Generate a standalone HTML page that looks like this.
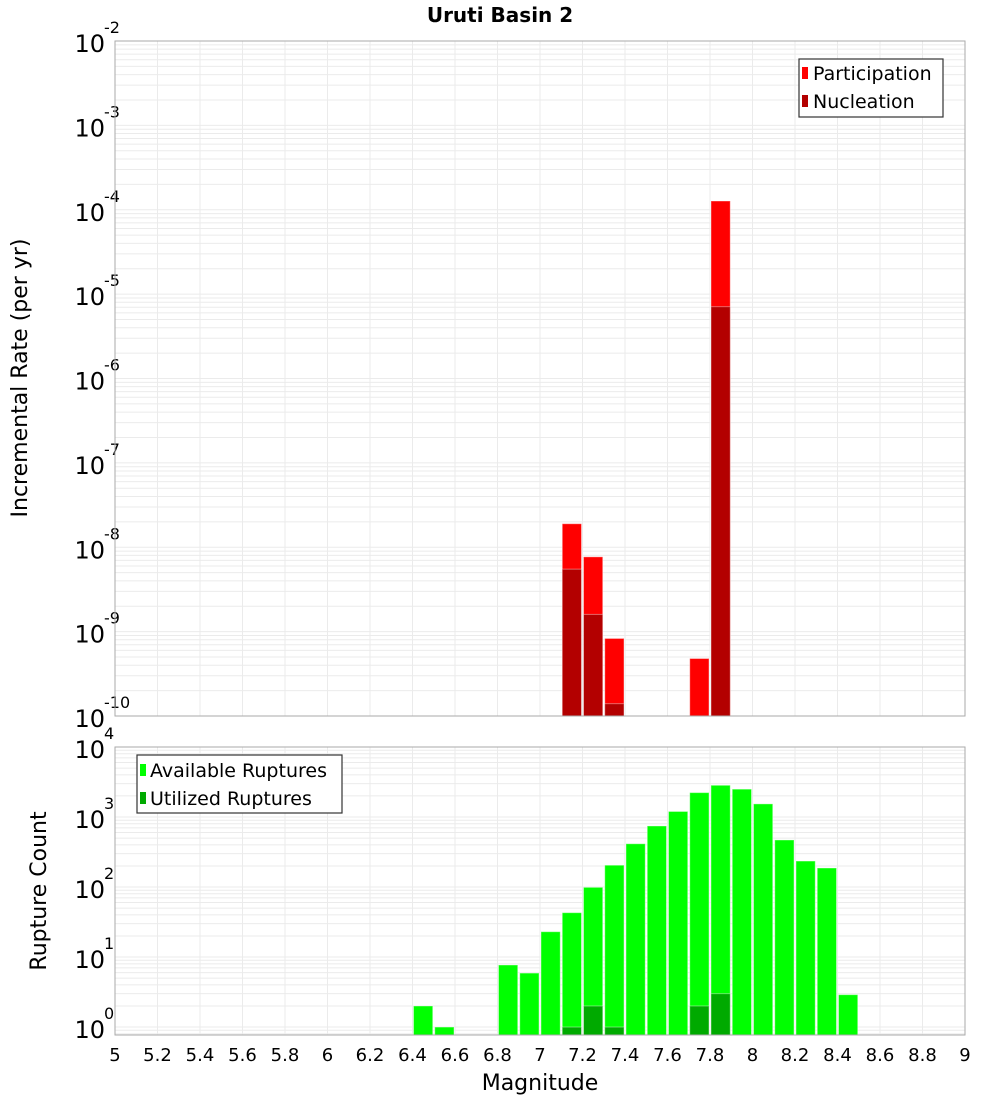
<!DOCTYPE html>
<html><head><meta charset="utf-8"><style>
body{margin:0;background:#fff;}
svg{font-family:"DejaVu Sans","Liberation Sans",sans-serif;}
</style></head><body>
<svg id="c" width="1000" height="1100" xmlns="http://www.w3.org/2000/svg">
<text x="500" y="22" text-anchor="middle" font-size="20" font-weight="bold">Uruti Basin 2</text>
<g id="gtop"></g>
<g id="gbot"></g>
<text transform="translate(27,378) rotate(-90)" text-anchor="middle" font-size="22">Incremental Rate (per yr)</text>
<text transform="translate(46,891) rotate(-90)" text-anchor="middle" font-size="22">Rupture Count</text>
<text x="540" y="1090" text-anchor="middle" font-size="22">Magnitude</text>
<g>
<rect x="799" y="59" width="144" height="58" fill="#fff" stroke="#333" stroke-width="1.2"/>
<rect x="802" y="67" width="6" height="12" fill="#ff0000"/>
<text x="813" y="80" font-size="19">Participation</text>
<rect x="802" y="95" width="6" height="12" fill="#b30000"/>
<text x="813" y="108" font-size="19">Nucleation</text>
</g>
<g>
<rect x="137" y="755" width="205" height="58" fill="#fff" stroke="#333" stroke-width="1.2"/>
<rect x="140" y="764" width="6" height="12" fill="#00ff00"/>
<text x="150" y="777" font-size="19">Available Ruptures</text>
<rect x="140" y="792" width="6" height="12" fill="#00aa00"/>
<text x="150" y="805" font-size="19">Utilized Ruptures</text>
</g>
</svg>
<script>
const rateMags=[7.15,7.25,7.35,7.75,7.85];
const participation=[1.9e-8,7.7e-9,8.3e-10,4.8e-10,1.27e-4];
const nucleationMags=[7.15,7.25,7.35,7.85];
const nucleation=[5.5e-9,1.6e-9,1.4e-10,7.1e-6];
const countMags=[6.45,6.55,6.85,6.95,7.05,7.15,7.25,7.35,7.45,7.55,7.65,7.75,7.85,7.95,8.05,8.15,8.25,8.35,8.45];
const available=[2,1,7.7,5.9,23,43,99,205,415,745,1200,2230,2840,2500,1540,470,235,187,2.9];
const utilizedMags=[7.15,7.25,7.35,7.75,7.85];
const utilized=[1,2,1,2,3];
const xTicks=[5,5.2,5.4,5.6,5.8,6,6.2,6.4,6.6,6.8,7,7.2,7.4,7.6,7.8,8,8.2,8.4,8.6,8.8,9];
const rateExps=[-10,-9,-8,-7,-6,-5,-4,-3,-2];
const countExps=[0,1,2,3,4];

const NS="http://www.w3.org/2000/svg";
const X0=115,X1=965;
const xs=m=>X0+(m-5)/4*(X1-X0);
function mk(p,tag,a){const e=document.createElementNS(NS,tag);for(const k in a)e.setAttribute(k,a[k]);p.appendChild(e);return e;}
function panel(g,pTop,pBottom,lmin,lmax,exps,name){
  const ys=v=>pBottom-(Math.log10(v)-lmin)/(lmax-lmin)*(pBottom-pTop);
  const grid=mk(g,'g',{});
  
  
  for(let e=Math.floor(lmin);e<lmax;e++){for(let k=1;k<10;k++){const v=k*Math.pow(10,e);const lv=Math.log10(v);if(lv<lmin||lv>lmax)continue;const yy=ys(v);mk(grid,'line',{x1:X0,x2:X1,y1:yy,y2:yy,stroke:'#ebebeb','stroke-width':1});}}
  xTicks.forEach(t=>{mk(grid,'line',{x1:xs(t),x2:xs(t),y1:pTop,y2:pBottom,stroke:'#ebebeb','stroke-width':1});});
  exps.forEach(e=>{const yy=ys(Math.pow(10,e));
    const t=mk(g,'text',{x:105,y:yy+11,'text-anchor':'end','font-size':24});
    
    
    t.textContent='10';
    const s=mk(g,'text',{x:104,y:yy-8,'font-size':16});
    
    
    s.textContent=String(e);
  });
  return ys;
}
function bars(g,ys,mags,vals,fill,name,pBottom){
  mags.forEach((m,i)=>{const yt=ys(vals[i]);
    const r=mk(g,'rect',{x:xs(m-0.05)+1,y:yt,width:xs(5.1)-X0-2,height:pBottom-yt,fill:fill,stroke:'rgba(255,255,255,0.4)','stroke-width':1});
    
    
  });
}
const gTop=document.getElementById('gtop'),gBot=document.getElementById('gbot');
const yT=panel(gTop,41,716,-10,-2,rateExps,'rate');
bars(gTop,yT,rateMags,participation,'#ff0000','bar-participation',716);
bars(gTop,yT,nucleationMags,nucleation,'#b30000','bar-nucleation',716);
mk(gTop,'rect',{x:X0,y:41,width:X1-X0,height:675,fill:'none',stroke:'#aaa','stroke-width':1});
const yB=panel(gBot,747,1035,Math.log10(0.77),4,countExps,'count');
bars(gBot,yB,countMags,available,'#00ff00','bar-available',1035);
bars(gBot,yB,utilizedMags,utilized,'#00aa00','bar-utilized',1035);
mk(gBot,'rect',{x:X0,y:747,width:X1-X0,height:288,fill:'none',stroke:'#aaa','stroke-width':1});
xTicks.forEach(t=>{const e=mk(gBot,'text',{x:xs(t),y:1061,'text-anchor':'middle','font-size':18});
  
  
  e.textContent=String(t);});
</script>
</body></html>
